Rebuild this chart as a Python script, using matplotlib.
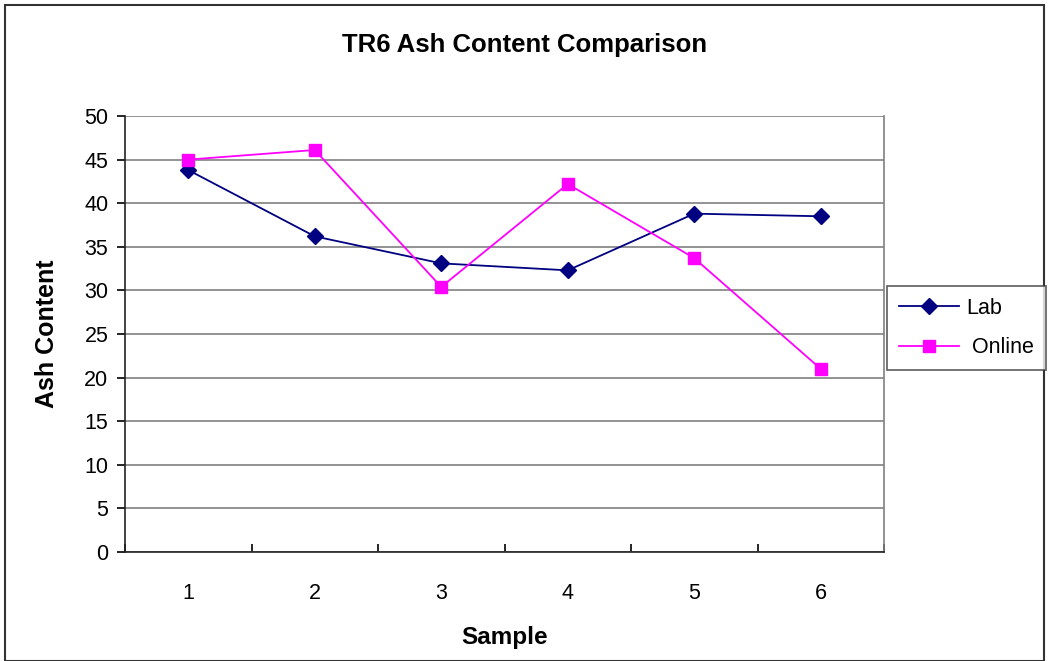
import matplotlib
matplotlib.use('Agg')
import matplotlib.pyplot as plt
from matplotlib.patches import Rectangle

plt.rcParams['font.family'] = ['Liberation Sans', 'DejaVu Sans']

samples = [1, 2, 3, 4, 5, 6]
lab = [43.8, 36.2, 33.1, 32.3, 38.8, 38.5]
online = [45.0, 46.1, 30.4, 42.2, 33.7, 21.0]
yticks = [0, 5, 10, 15, 20, 25, 30, 35, 40, 45, 50]

fig = plt.figure(figsize=(10.49, 6.61), dpi=100)
fig.patches.append(Rectangle((5/1049, 0), 1039/1049, 1 - 5/661, transform=fig.transFigure,
                             fill=False, edgecolor='#333333', linewidth=1.5))

ax = fig.add_axes([125/1049, 1 - 552/661, (884 - 125)/1049, (552 - 116)/661])
ax.set_xlim(0.5, 6.5)
ax.set_ylim(0, 50)
ax.set_yticks(yticks)
ax.yaxis.grid(True, color='#808080', linewidth=1.2)
ax.set_axisbelow(True)
for s in ['top', 'right']:
    ax.spines[s].set_visible(False)
for s in ['left', 'bottom']:
    ax.spines[s].set_color('#222222')
    ax.spines[s].set_linewidth(1.2)
# outline of plot area on the right
ax.plot([1, 1], [0, 1], transform=ax.transAxes, color='#808080', lw=1.2, clip_on=False)

# category ticks sit between categories, labels at centers
ax.set_xticks([x + 0.5 for x in [0] + samples])
ax.set_xticklabels([])
ax.set_xticks(samples, minor=True)
ax.set_xticklabels([str(s) for s in samples], minor=True)
ax.tick_params(axis='x', which='minor', length=0, pad=22, labelsize=15.5)
ax.tick_params(axis='x', which='major', length=6, direction='in', width=1.2)
ax.tick_params(axis='y', length=6, direction='out', labelsize=15.5, width=1.2, pad=6)

ax.plot(samples, lab, color='#000080', marker='D', markersize=8, linewidth=1.3, label='Lab')
ax.plot(samples, online, color='#FF00FF', marker='s', markersize=9, linewidth=1.3, label=' Online')

ax.set_xlabel('Sample', fontsize=17.5, fontweight='bold', labelpad=16)
ax.set_ylabel('Ash Content', fontsize=18, fontweight='bold', labelpad=18)
fig.text(525/1049, 1 - 45/661, 'TR6 Ash Content Comparison', ha='center', va='center',
         fontsize=18.5, fontweight='bold')

leg = fig.legend(loc='center', bbox_to_anchor=(966.5/1049, 1 - 328/661), fontsize=15.5,
                 frameon=True, fancybox=False, edgecolor='#333333', handlelength=2.8,
                 borderpad=0.55, labelspacing=0.85, handletextpad=0.3, borderaxespad=0)
leg.get_frame().set_linewidth(1.2)

fig.savefig('out.png', dpi=100)
